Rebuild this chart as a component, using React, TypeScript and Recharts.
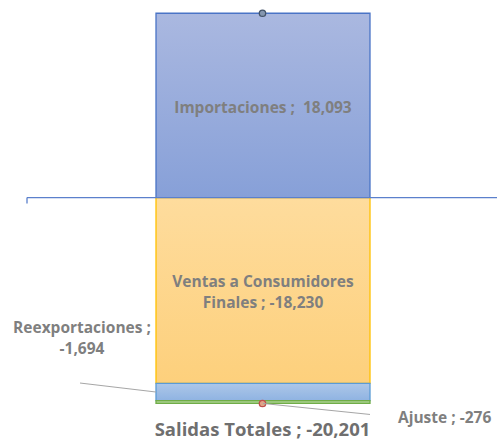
import React from 'react';
import { ComposedChart, Bar, Line, XAxis, YAxis, ReferenceLine, LabelList } from 'recharts';

const categories = ['Balance'];
const importaciones = [18093];
const ventas = [-18230];
const reexportaciones = [-1694];
const ajuste = [-276];
const salidasTotales = [-20201];

const data = categories.map((c, i) => ({
  name: c,
  importaciones: importaciones[i],
  ventas: ventas[i],
  reexportaciones: reexportaciones[i],
  ajuste: ajuste[i],
  entradas: importaciones[i],
  salidas: salidasTotales[i],
}));

const FONT = '"Open Sans", Lato, sans-serif';
const GRAY = '#7f7f7f';
const fmt = (v: number) => v.toLocaleString('en-US');

const App: React.FC = () => {
  return (
    <div style={{ position: 'absolute', left: 0, top: 0 }}>
      <ComposedChart
        width={497}
        height={442}
        data={data}
        stackOffset="sign"
        margin={{ top: 4, right: 0, bottom: 10, left: 28 }}
      >
        <defs>
          <linearGradient id="gImp" x1="0" y1="0" x2="0" y2="1">
            <stop offset="0%" stopColor="#aab8e0" />
            <stop offset="100%" stopColor="#87a0d8" />
          </linearGradient>
          <linearGradient id="gVen" x1="0" y1="0" x2="0" y2="1">
            <stop offset="0%" stopColor="#fedc9d" />
            <stop offset="100%" stopColor="#fdd07c" />
          </linearGradient>
          <linearGradient id="gRe" x1="0" y1="0" x2="0" y2="1">
            <stop offset="0%" stopColor="#adc7e8" />
            <stop offset="100%" stopColor="#8fb3e2" />
          </linearGradient>
        </defs>
        <XAxis dataKey="name" hide />
        <YAxis hide domain={[-23000, 19000]} />
        <Bar dataKey="importaciones" stackId="a" barSize={214} fill="url(#gImp)" stroke="#4a74c6" strokeWidth={1.3} isAnimationActive={false}>
          <LabelList
            dataKey="importaciones"
            content={(p: any) => (
              <text x={p.x + p.width / 2} y={p.y + 100} textAnchor="middle" fontFamily={FONT} fontWeight={700} fontSize={15.5} fill={GRAY} style={{ whiteSpace: 'pre' }}>
                {`Importaciones ;  ${fmt(p.value)}`}
              </text>
            )}
          />
        </Bar>
        <Bar dataKey="ventas" stackId="a" barSize={214} fill="url(#gVen)" stroke="#ffc000" strokeWidth={1.3} isAnimationActive={false}>
          <LabelList
            dataKey="ventas"
            content={(p: any) => {
              const cx = p.x + p.width / 2;
              const top = Math.min(p.y, p.y + p.height);
              return (
                <text textAnchor="middle" fontFamily={FONT} fontWeight={700} fontSize={15.5} fill={GRAY}>
                  <tspan x={cx} y={top + 89}>Ventas a Consumidores</tspan>
                  <tspan x={cx} y={top + 110}>{`Finales ; ${fmt(p.value)}`}</tspan>
                </text>
              );
            }}
          />
        </Bar>
        <Bar dataKey="reexportaciones" stackId="a" barSize={214} fill="url(#gRe)" stroke="#5b9bd5" strokeWidth={1.3} isAnimationActive={false}>
          <LabelList
            dataKey="reexportaciones"
            content={(p: any) => {
              const top = Math.min(p.y, p.y + p.height);
              const mid = top + Math.abs(p.height) / 2;
              return (
                <g>
                  <line x1={p.x} y1={mid} x2={80} y2={mid - 9} stroke="#a6a6a6" strokeWidth={1} />
                  <text textAnchor="middle" fontFamily={FONT} fontWeight={700} fontSize={15.5} fill={GRAY}>
                    <tspan x={82} y={mid - 59}>Reexportaciones ;</tspan>
                    <tspan x={82} y={mid - 38}>{fmt(p.value)}</tspan>
                  </text>
                </g>
              );
            }}
          />
        </Bar>
        <Bar dataKey="ajuste" stackId="a" barSize={214} fill="#a9d18e" stroke="#70ad47" strokeWidth={1.3} isAnimationActive={false}>
          <LabelList
            dataKey="ajuste"
            content={(p: any) => {
              const cx = p.x + p.width / 2;
              const bottom = Math.max(p.y, p.y + p.height);
              return (
                <g>
                  <line x1={cx} y1={bottom} x2={p.x + p.width} y2={bottom + 11} stroke="#a6a6a6" strokeWidth={1} />
                  <text x={p.x + p.width + 28} y={bottom + 20} fontFamily={FONT} fontWeight={700} fontSize={15.5} fill={GRAY}>
                    {`Ajuste ; ${fmt(p.value)}`}
                  </text>
                </g>
              );
            }}
          />
        </Bar>
        <ReferenceLine
          y={0}
          stroke="#5b80cc"
          shape={(p: any) => (
            <path d={`M${p.x1 - 1},${p.y1}L${p.x2},${p.y2}M${p.x1 - 1},${p.y1}L${p.x1 - 1},${p.y1 + 6}`} stroke="#5b80cc" strokeWidth={1.3} fill="none" />
          )}
        />
        <Line dataKey="entradas" stroke="none" dot={{ r: 3.2, fill: '#8496b0', stroke: '#44546a', strokeWidth: 1.3 }} isAnimationActive={false} />
        <Line dataKey="salidas" stroke="none" dot={{ r: 3.2, fill: '#e0a488', stroke: '#c0504d', strokeWidth: 1.3 }} isAnimationActive={false}>
          <LabelList
            dataKey="salidas"
            content={(p: any) => (
              <text x={p.x} y={p.y + 33} textAnchor="middle" fontFamily={FONT} fontWeight={700} fontSize={18.5} fill="#6f6f6f">
                {`Salidas Totales ; ${fmt(p.value)}`}
              </text>
            )}
          />
        </Line>
      </ComposedChart>
    </div>
  );
};

export default App;
